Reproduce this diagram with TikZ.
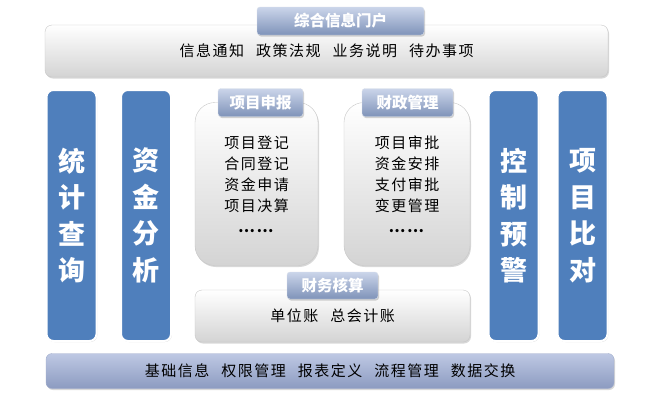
\documentclass[tikz,border=0pt]{standalone}
\usepackage{fontspec}
\newfontfamily\cjk{Noto Sans CJK SC}
\newfontfamily\cjkwide{Noto Sans CJK SC}[LetterSpace=10]
\usetikzlibrary{positioning,shapes,shadows}
\definecolor{colblue}{HTML}{4F7FBC}
\definecolor{headtop}{HTML}{CBD5EA}
\definecolor{headbot}{HTML}{7F93B9}
\definecolor{bartop}{HTML}{BEC8E4}
\definecolor{barbot}{HTML}{8C9BC0}
\tikzset{
  panel/.style={
    % The shape:
    rectangle,rounded corners=7pt,
    % The border:
    draw=black!22,thin,
    % The filling:
    top color=white,              % white at the top...
    bottom color=black!17,        % and light grey at the bottom
    % Shadow and text
    drop shadow={shadow xshift=1pt,shadow yshift=-1.5pt,opacity=.3},
    inner sep=0pt,font=\cjkwide\fontsize{15}{18}\selectfont
  },
  bigpanel/.style={
    panel,rounded corners=20pt,
    font=\cjkwide\fontsize{15}{21}\selectfont,align=center
  },
  heading/.style={
    % The shape:
    rectangle,rounded corners=3pt,
    minimum height=28pt,inner sep=0pt,
    % The filling:
    draw=white!70!headbot,top color=headtop,bottom color=headbot,
    drop shadow={shadow xshift=1pt,shadow yshift=-1.5pt,opacity=.35},
    % Font
    text=white,font=\cjk\bfseries\fontsize{15.5}{18}\selectfont
  },
  column/.style={
    rectangle,rounded corners=7pt,
    minimum width=50pt,minimum height=251pt,inner sep=0pt,
    draw=white,line width=2pt,fill=colblue,
    drop shadow={shadow xshift=.8pt,shadow yshift=-1pt,opacity=.3},
    text=white,align=center,font=\cjk\bfseries\fontsize{27}{36.5}\selectfont
  },
  basebar/.style={
    rectangle,rounded corners=6pt,inner sep=0pt,
    draw=barbot!80,thin,top color=bartop,bottom color=barbot,
    drop shadow={shadow xshift=1pt,shadow yshift=-1.5pt,opacity=.3},
    font=\cjkwide\fontsize{15}{18}\selectfont
  }
}
\newcommand{\gap}{\hspace{0.8em}}

\begin{document}
\begin{tikzpicture}[x=1pt,y=-1pt]
  \useasboundingbox[fill=white] (0,0) rectangle (650,400);

  % portal on top
  \node (portal) [panel,minimum width=563pt,minimum height=52pt] at (326.5,51)
        {信息通知\gap 政策法规\gap 业务说明\gap 待办事项};
  \node (portalhd) [heading,minimum width=167pt] at (340.5,21) {综合信息门户};

  % side columns
  \node (tongji)  [column] at (71.5,215.5)  {统\\计\\查\\询};
  \node (zijin)   [column] at (146,215.5)   {资\\金\\分\\析};
  \node (kongzhi) [column] at (513.5,215.5) {控\\制\\预\\警};
  \node (bidui)   [column] at (582.5,215.5) {项\\目\\比\\对};

  % middle part
  \node (xmsb) [bigpanel,minimum width=123pt,minimum height=163pt] at (256.5,184)
        {项目登记\\合同登记\\资金申请\\项目决算\\\textbf{……}};
  \node (czgl) [bigpanel,minimum width=126pt,minimum height=163pt] at (407,184)
        {项目审批\\资金安排\\支付审批\\变更管理\\\textbf{……}};
  \node (cwhs) [panel,minimum width=275pt,minimum height=52pt] at (332.5,316)
        {单位账\gap 总会计账};
  \node (xmsbhd) [heading,minimum width=85pt] at (260.5,102.5) {项目申报};
  \node (czglhd) [heading,minimum width=91pt] at (407.5,102.5) {财政管理};
  \node (cwhshd) [heading,minimum width=91pt,minimum height=27pt] at (332.5,285.5) {财务核算};

  % base bar
  \node (base) [basebar,minimum width=568pt,minimum height=35pt] at (330,371)
        {基础信息\gap 权限管理\gap 报表定义\gap 流程管理\gap 数据交换};
\end{tikzpicture}
\end{document}
